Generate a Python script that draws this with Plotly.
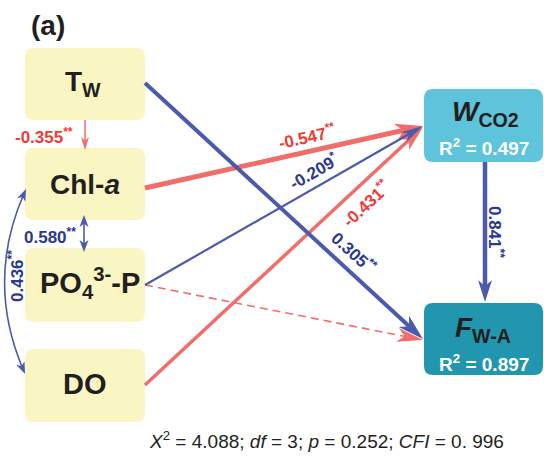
import math
import plotly.graph_objects as go

# ---------------- SEM results ----------------
node_ids = ["Tw", "Chl", "PO4", "DO", "W", "F"]
node_labels = ["T<sub>W</sub>", "Chl-<i>a</i>", "PO<sub>4</sub><sup>3-</sup>-P", "DO",
               "<i>W</i><sub>CO2</sub>", "<i>F</i><sub>W-A</sub>"]
r2_nodes = ["W", "F"]
r2_values = [0.497, 0.897]

# directed paths (standardised coefficients); None = non-significant path
path_from = ["Chl", "DO", "PO4", "PO4", "Tw", "W", "Tw"]
path_to = ["W", "W", "F", "W", "F", "F", "Chl"]
path_coef = [-0.547, -0.431, None, -0.209, 0.305, 0.841, -0.355]
path_stars = ["**", "**", "", "*", "**", "**", "**"]

# covariances between exogenous variables
corr_a = ["Chl", "Chl"]
corr_b = ["PO4", "DO"]
corr_coef = [0.580, 0.436]
corr_stars = ["**", "**"]

fit_chi2, fit_df, fit_p, fit_cfi = 4.088, 3, 0.252, 0.996

# ---------------- styling / layout ----------------
W_PX, H_PX = 544, 459
FONT = "Liberation Sans, Arial, Helvetica, sans-serif"
LINE_COL = {"red": "#F06E69", "blue": "#4B5AAA"}
TEXT_COL = {"red": "#EF3B36", "blue": "#2A388E"}
INK = "#231F20"
YELLOW = "#FAF6C4"
COEF_SIZE = 17

box_rect = {
    "Tw": (25, 48, 145, 120),
    "Chl": (25, 148, 145, 220),
    "PO4": (25, 248, 145, 322),
    "DO": (25, 349, 145, 422),
    "W": (424, 89, 543, 162),
    "F": (424, 303, 543, 375),
}
box_fill = {"Tw": YELLOW, "Chl": YELLOW, "PO4": YELLOW, "DO": YELLOW,
            "W": "#5EC4DB", "F": "#2196AE"}
label_xy = {"Tw": (83, 83), "Chl": (85, 184), "PO4": (90, 283), "DO": (85, 384),
            "W": (485, 113), "F": (483, 329)}
label_size = {"Tw": 28, "Chl": 28, "PO4": 29, "DO": 29, "W": 28, "F": 28}
r2_xy = {"W": (484, 147), "F": (484, 363)}

# per path: colour, start, arrow tip, line width, head length/width, label centre, fixed label angle
path_geom = {
    ("Chl", "W"): dict(col="red", start=(145, 188), tip=(423, 126), lw=5, hl=28, hw=17, lab=(307, 136), rot=None),
    ("DO", "W"): dict(col="red", start=(145, 385), tip=(423, 127), lw=3.5, hl=26, hw=15, lab=(366, 203), rot=None),
    ("PO4", "F"): dict(col="red", start=(145, 285), tip=(423, 340), lw=1.6, hl=26, hw=14, lab=None, rot=None),
    ("PO4", "W"): dict(col="blue", start=(145, 285), tip=(423, 126), lw=2.2, hl=22, hw=11, lab=(313, 171), rot=None),
    ("Tw", "F"): dict(col="blue", start=(145, 83), tip=(423, 339), lw=4, hl=26, hw=15, lab=(354, 252), rot=None),
    ("W", "F"): dict(col="blue", start=(485, 162), tip=(485, 302), lw=4.5, hl=22, hw=14, lab=(496, 232), rot=None),
    ("Tw", "Chl"): dict(col="red", start=(85, 120), tip=(85, 150), lw=1.5, hl=13, hw=8, lab=(44, 136), rot=0),
}
corr_geom = {
    ("Chl", "PO4"): dict(tip_a=(84, 215), tip_b=(84, 252), ctrl=None, lab=(50, 236), rot=0),
    ("Chl", "DO"): dict(tip_a=(26, 189), tip_b=(25, 374), ctrl=(-14, 281), lab=(16, 276), rot=-90),
}


def unit(dx, dy):
    n = math.hypot(dx, dy)
    return dx / n, dy / n


def head_path(tip, ux, uy, L, Wd):
    """Barbed arrowhead polygon pointing along (ux, uy) with its point at tip."""
    nx, ny = -uy, ux
    bx, by = tip[0] - L * ux, tip[1] - L * uy
    p1 = (bx + nx * Wd / 2, by + ny * Wd / 2)
    p2 = (bx - nx * Wd / 2, by - ny * Wd / 2)
    nt = (tip[0] - 0.72 * L * ux, tip[1] - 0.72 * L * uy)
    return (f"M{tip[0]:.2f},{tip[1]:.2f} L{p1[0]:.2f},{p1[1]:.2f} "
            f"L{nt[0]:.2f},{nt[1]:.2f} L{p2[0]:.2f},{p2[1]:.2f} Z")


def rounded_rect(x0, y0, x1, y1, r=9):
    return (f"M{x0 + r},{y0} L{x1 - r},{y0} Q{x1},{y0} {x1},{y0 + r} "
            f"L{x1},{y1 - r} Q{x1},{y1} {x1 - r},{y1} L{x0 + r},{y1} "
            f"Q{x0},{y1} {x0},{y1 - r} L{x0},{y0 + r} Q{x0},{y0} {x0 + r},{y0} Z")


def coef_text(v, stars):
    return f"<b>{v:.3f}<sup>{stars}</sup></b>"


shapes = []
annotations = []

# variable boxes
for nid, lab in zip(node_ids, node_labels):
    x0, y0, x1, y1 = box_rect[nid]
    shapes.append(dict(type="path", path=rounded_rect(x0, y0, x1, y1), xref="x", yref="y",
                       fillcolor=box_fill[nid], line=dict(width=0), layer="below"))
    lx, ly = label_xy[nid]
    annotations.append(dict(x=lx, y=ly, text=f"<b>{lab}</b>",
                            showarrow=False, xanchor="center", yanchor="middle",
                            font=dict(family=FONT, size=label_size[nid], color=INK)))

for nid, val in zip(r2_nodes, r2_values):
    rx, ry = r2_xy[nid]
    annotations.append(dict(x=rx, y=ry, text=f"<b>R<sup>2</sup> = {val:.3f}</b>",
                            showarrow=False, xanchor="center", yanchor="middle",
                            font=dict(family=FONT, size=19, color="white")))

# directed paths
for a, b, coef, stars in zip(path_from, path_to, path_coef, path_stars):
    g = path_geom[(a, b)]
    color = LINE_COL[g["col"]]
    (sx, sy), (tx, ty) = g["start"], g["tip"]
    ux, uy = unit(tx - sx, ty - sy)
    ex, ey = tx - 0.5 * g["hl"] * ux, ty - 0.5 * g["hl"] * uy
    shapes.append(dict(type="line", x0=sx, y0=sy, x1=ex, y1=ey, xref="x", yref="y",
                       line=dict(color=color, width=g["lw"],
                                 dash="solid" if coef is not None else "8px,5px")))
    shapes.append(dict(type="path", path=head_path((tx, ty), ux, uy, g["hl"], g["hw"]),
                       xref="x", yref="y", fillcolor=color, line=dict(width=0)))
    if coef is not None and g["lab"] is not None:
        ang = g["rot"] if g["rot"] is not None else math.degrees(math.atan2(ty - sy, tx - sx))
        annotations.append(dict(x=g["lab"][0], y=g["lab"][1], text=coef_text(coef, stars),
                                textangle=ang, showarrow=False, xanchor="center", yanchor="middle",
                                font=dict(family=FONT, size=COEF_SIZE, color=TEXT_COL[g["col"]])))

# covariances (double-headed)
for a, b, coef, stars in zip(corr_a, corr_b, corr_coef, corr_stars):
    g = corr_geom[(a, b)]
    ta, tb, c = g["tip_a"], g["tip_b"], g["ctrl"]
    hl, hw = 12, 9
    if c is None:
        ua = unit(ta[0] - tb[0], ta[1] - tb[1])
        ub = (-ua[0], -ua[1])
    else:
        ua = unit(ta[0] - c[0], ta[1] - c[1])
        ub = unit(tb[0] - c[0], tb[1] - c[1])
    ea = (ta[0] - 0.5 * hl * ua[0], ta[1] - 0.5 * hl * ua[1])
    eb = (tb[0] - 0.5 * hl * ub[0], tb[1] - 0.5 * hl * ub[1])
    if c is None:
        body = f"M{ea[0]:.2f},{ea[1]:.2f} L{eb[0]:.2f},{eb[1]:.2f}"
    else:
        body = f"M{ea[0]:.2f},{ea[1]:.2f} Q{c[0]},{c[1]} {eb[0]:.2f},{eb[1]:.2f}"
    shapes.append(dict(type="path", path=body, xref="x", yref="y",
                       line=dict(color=LINE_COL["blue"], width=1.6)))
    for tip, u in ((ta, ua), (tb, ub)):
        shapes.append(dict(type="path", path=head_path(tip, u[0], u[1], hl, hw),
                           xref="x", yref="y", fillcolor=LINE_COL["blue"], line=dict(width=0)))
    annotations.append(dict(x=g["lab"][0], y=g["lab"][1], text=coef_text(coef, stars),
                            textangle=g["rot"], showarrow=False, xanchor="center",
                            yanchor="middle", font=dict(family=FONT, size=COEF_SIZE,
                                                        color=TEXT_COL["blue"])))

# panel tag and model fit
annotations.append(dict(x=48, y=25, text="<b>(a)</b>", showarrow=False, xanchor="center",
                        yanchor="middle", font=dict(family=FONT, size=28, color=INK)))
cfi_txt = f"{fit_cfi:.3f}".replace(".", ". ")
fit_txt = (f"<i>X</i><sup>2</sup> = {fit_chi2:.3f}; <i>df</i> = {fit_df}; "
           f"<i>p</i> = {fit_p:.3f}; <i>CFI</i> = {cfi_txt}")
annotations.append(dict(x=326, y=440, text=fit_txt, showarrow=False, xanchor="center",
                        yanchor="middle", font=dict(family=FONT, size=19, color=INK)))

fig = go.Figure()
fig.update_layout(
    width=W_PX, height=H_PX, autosize=False,
    margin=dict(l=0, r=0, t=0, b=0, pad=0),
    paper_bgcolor="white", plot_bgcolor="white",
    xaxis=dict(range=[0, W_PX], visible=False, fixedrange=True),
    yaxis=dict(range=[H_PX, 0], visible=False, fixedrange=True),
    showlegend=False,
    shapes=shapes,
    annotations=annotations,
)
fig.write_html("out.html")
